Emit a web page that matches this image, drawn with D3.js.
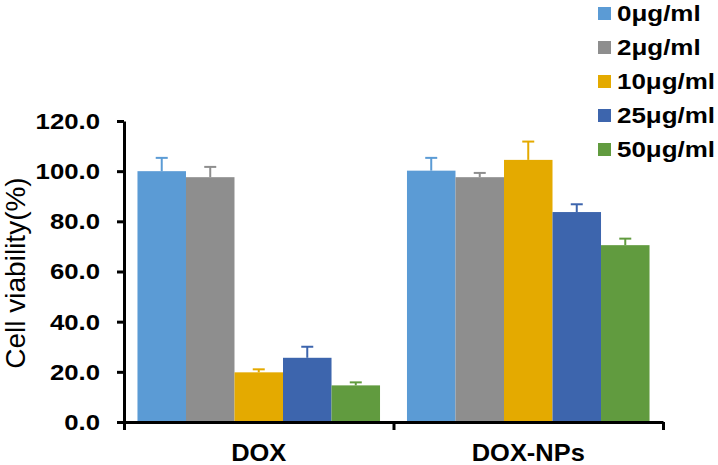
<html>
    <head>
        <script src="https://cdnjs.cloudflare.com/ajax/libs/d3/7.8.5/d3.min.js" type="text/JavaScript"></script>
        <style>
            body { margin: 0; background: #fff; }
            text { font-family: "Liberation Sans", Arial, sans-serif; fill: #000; }
        </style>
    </head>
    <body>
        <svg width="718" height="465"></svg>

        <script>
            // data
            let groups = ["DOX", "DOX-NPs"];
            let doses = ["0μg/ml", "2μg/ml", "10μg/ml", "25μg/ml", "50μg/ml"];
            let doxMeans = [100.0, 97.6, 19.8, 25.6, 14.6];
            let doxErrors = [5.3, 4.1, 1.2, 4.4, 1.2];
            let npMeans = [100.2, 97.6, 104.5, 83.7, 70.5];
            let npErrors = [5.1, 1.7, 7.3, 3.1, 2.6];
            let yTicks = [0, 20, 40, 60, 80, 100, 120];
            let colors = ["#5b9bd5", "#8e8e8e", "#e4aa00", "#3d65ad", "#619b3f"];

            let rows = [];
            doses.forEach((d, i) => {
                rows.push({group: "DOX", dose: d, i: i, v: doxMeans[i], e: doxErrors[i]});
                rows.push({group: "DOX-NPs", dose: d, i: i, v: npMeans[i], e: npErrors[i]});
            });

            var svg = d3.select("svg");
            var plotLeft = 124, plotRight = 663, plotTop = 121, plotBottom = 422;

            var y = d3.scaleLinear().domain([0, 120]).range([plotBottom, plotTop]);
            var x0 = d3.scaleBand().domain(groups).range([plotLeft, plotRight])
                .paddingInner(0.1).paddingOuter(0.05);
            var x1 = d3.scaleBand().domain(doses).range([0, x0.bandwidth()]);
            var xEdge = d3.scaleLinear().domain([0, groups.length]).range([plotLeft, plotRight]);

            // bars
            svg.append("g")
                .selectAll("rect")
                .data(rows)
                .enter()
                .append("rect")
                .attr("x", d => x0(d.group) + x1(d.dose))
                .attr("width", x1.bandwidth())
                .attr("y", d => y(d.v))
                .attr("height", d => y(0) - y(d.v))
                .style("fill", d => colors[d.i]);

            // upper error bars
            var err = svg.append("g")
                .selectAll("g")
                .data(rows)
                .enter()
                .append("g")
                .attr("transform", d => "translate(" + (x0(d.group) + x1(d.dose) + x1.bandwidth() / 2) + ",0)")
                .style("stroke", d => colors[d.i])
                .style("stroke-width", 2);
            err.append("line")
                .attr("y1", d => y(d.v))
                .attr("y2", d => y(d.v + d.e));
            err.append("line")
                .attr("x1", -6).attr("x2", 6)
                .attr("y1", d => y(d.v + d.e))
                .attr("y2", d => y(d.v + d.e));

            // y axis
            var yAxis = svg.append("g")
                .attr("transform", "translate(" + plotLeft + ",0)")
                .call(d3.axisLeft(y).tickValues(yTicks).tickSize(7).tickSizeOuter(0)
                    .tickFormat(d3.format(".1f")));
            yAxis.selectAll("path, line").style("stroke", "#000").style("stroke-width", 3);
            yAxis.selectAll("text")
                .attr("x", 0)
                .attr("transform", "translate(-24,0) scale(1.12,1)")
                .style("font-size", "23px")
                .style("font-weight", "bold");

            // x axis with ticks at the group edges
            var xAxis = svg.append("g")
                .attr("transform", "translate(0," + plotBottom + ")")
                .call(d3.axisBottom(xEdge).tickValues(d3.range(groups.length + 1))
                    .tickSize(8).tickSizeOuter(0).tickFormat(""));
            xAxis.selectAll("path, line").style("stroke", "#000").style("stroke-width", 3);

            var xLabels = svg.append("g")
                .attr("transform", "translate(0," + plotBottom + ")")
                .call(d3.axisBottom(x0).tickSize(0).tickPadding(0));
            xLabels.select(".domain").remove();
            xLabels.selectAll("text")
                .attr("y", 0).attr("dy", 0)
                .attr("transform", "translate(0,39) scale(1.06,1)")
                .style("font-size", "24px")
                .style("font-weight", "bold");

            // y axis title
            svg.append("text")
                .attr("transform", "translate(25,273) rotate(-90)")
                .attr("text-anchor", "middle")
                .style("font-size", "28px")
                .text("Cell viability(%)");

            // legend
            var legend = svg.append("g")
                .selectAll("g")
                .data(doses)
                .enter()
                .append("g")
                .attr("transform", (d, i) => "translate(598," + (21 + i * 34) + ")");
            legend.append("rect")
                .attr("x", 0).attr("y", -14)
                .attr("width", 13).attr("height", 13)
                .style("fill", (d, i) => colors[i]);
            legend.append("text")
                .attr("transform", "translate(19,0) scale(1.18,1)")
                .style("font-size", "22px")
                .style("font-weight", "bold")
                .text(d => d);
        </script>
    </body>
</html>
